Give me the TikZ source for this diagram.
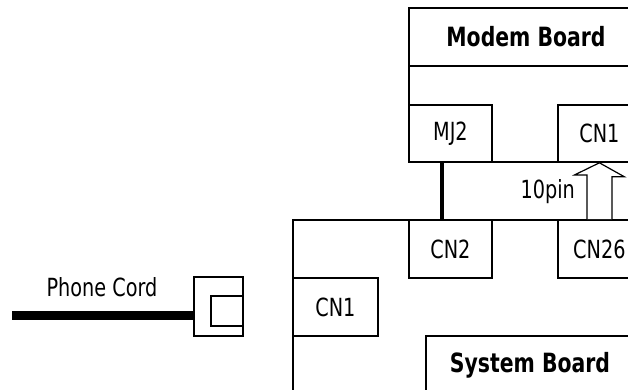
\documentclass[tikz,border=0pt]{standalone}
\usepackage{fontspec}
\setmainfont[FakeStretch=0.77]{DejaVu Sans}
\usetikzlibrary{calc}
\tikzset{
  box/.style={draw, line width=1.8pt, rectangle, inner sep=0pt, anchor=north west},
  lbl/.style={font=\fontsize{25}{30}\selectfont, inner sep=0pt},
  blbl/.style={font=\fontsize{26.5}{30}\selectfont\bfseries, inner sep=0pt},
  wire/.style={line width=4pt},
  cord/.style={line width=9pt},
  pinarrow/.style={draw, line width=1.2pt, fill=white, line join=miter}
}
\begin{document}
\begin{tikzpicture}[x=1pt,y=-1pt]
\useasboundingbox (0,0) rectangle (628,389);
\clip (0,0) rectangle (628,389);
% modem board
\node[box, minimum width=232pt, minimum height=154pt] (modem) at (408,7) {};
\node[box, minimum width=232pt, minimum height=58pt] (modemhead) at (408,7) {};
\node[blbl] (modemtxt) at (526,37) {Modem Board};
\node[box, minimum width=83pt, minimum height=57pt, lbl] (mj2) at (408,104) {MJ2};
\node[box, minimum width=83pt, minimum height=57pt, lbl] (cn1m) at (557,104) {CN1};
% system board
\node[box, minimum width=348pt, minimum height=181pt] (sys) at (292,219) {};
\node[box, minimum width=83pt, minimum height=58pt, lbl] (cn2) at (408,219) {CN2};
\node[box, minimum width=83pt, minimum height=58pt, lbl] (cn26) at (557,219) {CN26};
\node[box, minimum width=85pt, minimum height=58pt, lbl] (cn1s) at (292,277) {CN1};
\node[box, minimum width=215pt, minimum height=65pt] (syshead) at (425,335) {};
\node[blbl] (systxt) at (530,365) {System Board};
% wire MJ2 - CN2
\draw[wire] ($(mj2.south west)!0.4!(mj2.south east)$) -- ($(cn2.north west)!0.4!(cn2.north east)$);
% 10pin arrow
\draw[pinarrow] ($(cn26.north)+(-12.5,0)$) -- ++(0,-44) -- ++(-12.5,0) -- (cn1m.south) -- ++(25,14) -- ++(-12.5,0) -- ($(cn26.north)+(12.5,0)$);
\node[lbl, anchor=east] (pin) at (575,192) {10pin};
% phone cord
\node[lbl] (cordtxt) at (102,287) {Phone Cord};
\node[box, minimum width=49pt, minimum height=59pt] (jack) at (193,276) {};
\node[box, minimum width=32pt, minimum height=30pt] (plug) at (210,295) {};
\coordinate (cordend) at (12,315.5);
\draw[cord] (cordend) -- (cordend -| jack.west);
\end{tikzpicture}
\end{document}
